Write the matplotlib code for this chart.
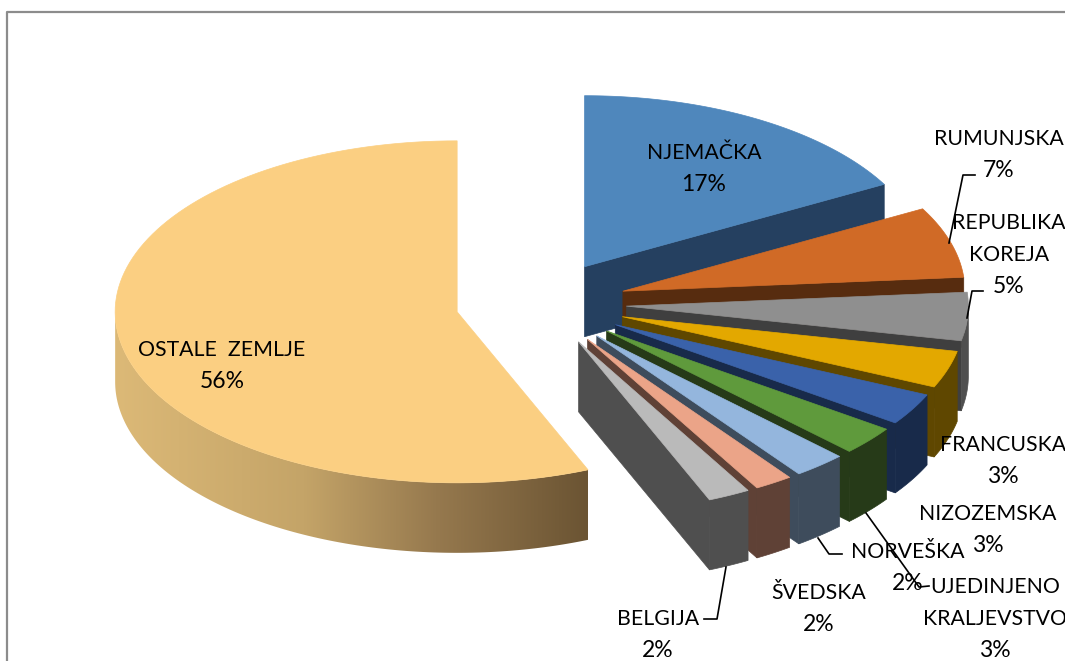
# -*- coding: utf-8 -*-
import numpy as np
import matplotlib
matplotlib.use('Agg')
import matplotlib.pyplot as plt
from matplotlib.colors import LinearSegmentedColormap
from matplotlib.patches import Polygon

# podaci
zemlje = ['NJEMAČKA', 'RUMUNJSKA', 'REPUBLIKA\nKOREJA', 'FRANCUSKA', 'NIZOZEMSKA',
          'UJEDINJENO\nKRALJEVSTVO', 'NORVEŠKA', 'ŠVEDSKA', 'BELGIJA', 'OSTALE  ZEMLJE']
udjeli = [17.0, 6.7, 4.55, 3.49, 3.0, 2.7, 2.5, 1.81, 2.0, 56.25]
postoci = ['17%', '7%', '5%', '3%', '3%', '3%', '2%', '2%', '2%', '56%']

boje = ['#4f87bc', '#d06a26', '#8f8f8f', '#e3a800', '#3a62aa',
        '#5f9a3c', '#94b6dd', '#eba488', '#bababa', '#fbcf82']
boje_bok = ['#254060', '#572c0f', '#3f3f3f', '#5f4700', '#182a4a',
            '#263a18', '#3e4c5c', '#5f4136', '#4f4f4f', '#d9b674']

# polozaj teksta (sredina) u pikselima
pozicije = [(704, 167), (999, 153), (1009, 253), (1003, 459), (988, 528),
            (995, 617), (908, 566), (819, 607), (658, 633), (222, 364)]

# linije do oznaka
linije = [[(975, 175), (963, 175), (949, 243)],
          [(983, 291), (972, 291), (967, 318)],
          [(866, 513), (919, 587), (929, 586)],
          [(818, 538), (829, 554), (842, 554)],
          [(726, 567), (717, 619), (704, 619)]]

CX, CY = 541, 303.5
RX, RY = 342, 171
EXPL = 0.25
DUB = 70
RED = 32


def luk(cx, cy, a0, a1):
    t = np.radians(np.linspace(a0, a1, 120))
    return np.column_stack((cx + RX * np.sin(t), cy - RY * np.cos(t)))


fig = plt.figure(figsize=(10.65, 6.61), dpi=100)
ax = fig.add_axes([0, 0, 1, 1])
ax.set_xlim(0, 1065)
ax.set_ylim(661, 0)
ax.axis('off')

# okvir grafikona
ax.plot([6.5, 6.5, 1065], [661, 11.5, 11.5], color='#8c8c8c', linewidth=1.6)

granice = np.cumsum([0] + udjeli) * 3.6
for i in range(len(udjeli)):
    a0, a1 = granice[i], granice[i + 1]
    sred = np.radians((a0 + a1) / 2)
    cx = CX + EXPL * RX * np.sin(sred)
    cy = CY - EXPL * RY * np.cos(sred)
    z = 2 + i

    gornja = np.vstack(([cx, cy], luk(cx, cy, a0, a1)))
    pomak = np.array([0, DUB])

    # bocna strana uz rez
    if a1 < 180:
        kraj = luk(cx, cy, a1, a1)[0]
        ax.add_patch(Polygon([(cx, cy), kraj, kraj + pomak, (cx, cy + DUB)],
                             facecolor=boje_bok[i], edgecolor=boje_bok[i], linewidth=0.5, zorder=z))

    # vanjski rub
    b0, b1 = max(a0, 90), min(a1, 270)
    if b1 > b0:
        rub = luk(cx, cy, b0, b1)
        rub_poly = np.vstack((rub, rub[::-1] + pomak))
        if zemlje[i].startswith('OSTALE'):
            grad = LinearSegmentedColormap.from_list(
                'bok', [(0, '#dcb977'), (0.4, '#c4a468'), (0.68, '#96794e'), (1, '#6b5433')])
            slika = ax.imshow(np.linspace(0, 1, 256).reshape(1, -1), cmap=grad, aspect='auto',
                              extent=(rub[:, 0].min(), rub[:, 0].max(), 661, 0), zorder=z)
            p = Polygon(rub_poly, transform=ax.transData, facecolor='none', edgecolor='none')
            ax.add_patch(p)
            slika.set_clip_path(p)
        else:
            boja_ruba = '#4f4f4f' if i == 2 else boje_bok[i]
            ax.add_patch(Polygon(rub_poly, facecolor=boja_ruba, edgecolor=boja_ruba,
                                 linewidth=0.5, zorder=z))

    ax.add_patch(Polygon(gornja, facecolor=boje[i], edgecolor=boje[i], linewidth=0.5, zorder=z + 0.5))

ax.set_xlim(0, 1065)
ax.set_ylim(661, 0)

for l in linije:
    ax.plot([p[0] for p in l], [p[1] for p in l], color='black', linewidth=1.2, zorder=20)

# svaki red posebno, razmak kao na originalu
for ime, u, (x, y) in zip(zemlje, postoci, pozicije):
    redovi = ime.split('\n') + [u]
    for k, red in enumerate(redovi):
        yr = y + (k - (len(redovi) - 1) / 2) * RED + 8
        vel = 16.5 if red == u else 15.3
        ax.text(x, yr, red, ha='center', va='baseline', family='Lato',
                fontsize=vel, color='black', zorder=30)

fig.savefig('out.png', dpi=100)
